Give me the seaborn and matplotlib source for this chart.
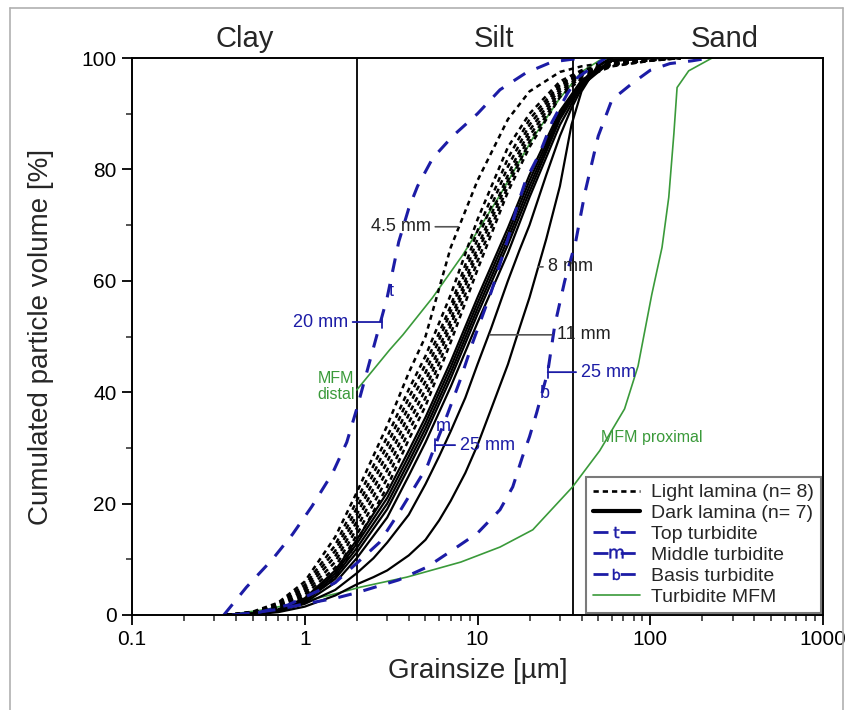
import numpy as np
import pandas as pd
import matplotlib
matplotlib.use("Agg")
import matplotlib.pyplot as plt
import seaborn as sns
from matplotlib.lines import Line2D

# ---------------- data ----------------
GRID = [0.35, 0.5, 0.7, 1, 1.5, 2, 3, 4, 5, 7, 10, 15, 20, 30, 40, 60, 100, 150]

LIGHT_1 = [0, 0.6, 2.2, 6.0, 14.0, 22.0, 34.0, 43.5, 50.0, 66.0, 78.0, 89.0, 94.0, 97.5, 98.5, 99.3, 99.8, 100]
LIGHT_2 = [0, 0.5, 2.0, 5.4, 12.5, 20.5, 32.0, 40.5, 46.5, 57.5, 71.0, 84.0, 90.0, 95.8, 97.8, 99.1, 99.7, 100]
LIGHT_3 = [0, 0.5, 1.8, 4.9, 11.5, 19.2, 30.5, 39.0, 45.0, 55.5, 69.0, 82.0, 89.0, 95.3, 97.5, 99.0, 99.7, 100]
LIGHT_4 = [0, 0.4, 1.6, 4.5, 10.5, 18.0, 29.0, 37.5, 43.5, 54.5, 67.5, 80.5, 88.0, 95.0, 97.3, 98.9, 99.6, 100]
LIGHT_5 = [0, 0.4, 1.5, 4.0, 9.5, 16.8, 27.5, 36.0, 42.0, 53.0, 66.0, 79.0, 87.0, 94.5, 97.1, 98.8, 99.6, 100]
LIGHT_6 = [0, 0.3, 1.3, 3.6, 8.5, 15.6, 26.0, 34.5, 40.5, 52.0, 65.0, 78.0, 86.0, 94.0, 96.9, 98.7, 99.6, 100]
LIGHT_7 = [0, 0.3, 1.2, 3.2, 7.5, 14.4, 24.5, 33.0, 39.0, 50.5, 63.5, 77.0, 85.0, 93.5, 96.6, 98.6, 99.5, 100]
LIGHT_8 = [0, 0.3, 1.0, 2.8, 6.5, 13.2, 23.0, 31.5, 37.5, 49.0, 62.0, 76.0, 84.0, 93.0, 96.3, 98.5, 99.5, 100]

DARK_1 = [0, 0.3, 1.0, 3.0, 8.0, 13.5, 22.0, 29.5, 35.5, 45.5, 57.0, 69.5, 79.0, 90.5, 96.0, 99.6, 100, 100]
DARK_2 = [0, 0.3, 0.9, 2.8, 7.5, 12.8, 21.0, 28.5, 34.5, 44.5, 56.0, 68.5, 78.0, 90.0, 95.8, 99.6, 100, 100]
DARK_3 = [0, 0.2, 0.9, 2.6, 7.0, 12.0, 20.0, 27.5, 33.5, 43.5, 55.0, 67.5, 77.0, 89.5, 95.5, 99.5, 100, 100]
DARK_4 = [0, 0.2, 0.8, 2.5, 6.5, 11.2, 19.0, 26.5, 32.5, 42.5, 54.0, 66.5, 76.0, 89.0, 95.3, 99.5, 100, 100]
DARK_5 = [0, 0.2, 0.8, 2.2, 5.8, 10.2, 17.5, 25.0, 31.0, 41.0, 52.5, 65.0, 75.0, 88.0, 95.0, 99.5, 100, 100]

GRID_B = [0.35, 0.5, 0.7, 1, 1.5, 2, 2.5, 3, 4, 5, 6, 7, 8.5, 10, 12, 15, 17.5, 20, 25, 30, 35, 40, 50, 60]
DARK_6 = [0, 0.2, 0.7, 2.0, 4.5, 7.5, 10.2, 13.0, 18.0, 23.5, 28.5, 33.0, 39.0, 45.0, 51.5, 60.0, 65.5, 70.0, 79.0, 86.0, 91.0, 94.5, 98.5, 100]
DARK_7 = [0, 0.1, 0.5, 1.5, 3.5, 5.5, 6.8, 8.0, 10.7, 13.5, 17.0, 20.5, 25.5, 30.5, 37.0, 45.0, 51.5, 57.0, 67.5, 77.0, 88.0, 94.0, 98.8, 100]

TOP_X = [0.34, 0.46, 0.65, 0.85, 1.1, 1.45, 1.75, 2.0, 2.5, 3.0, 3.5, 4.0, 4.5, 5.5, 7.2, 10, 13.5, 19, 27, 40]
TOP_Y = [0, 5, 10, 14.5, 19.5, 25.5, 31, 37, 48, 57, 67, 73, 77, 82, 86, 90, 94.3, 97.3, 99.3, 100]

MID_X = [0.38, 0.55, 0.8, 1.0, 1.5, 2.0, 2.7, 3.5, 5.1, 5.7, 6.6, 7.9, 9.4, 12, 15, 17, 19, 23, 27, 33, 38, 55]
MID_Y = [0, 0.5, 1.8, 3.2, 5.8, 9.3, 13, 18.3, 26.6, 30.5, 35.5, 42, 49, 58, 67.5, 73.5, 78, 83, 88.5, 93.5, 96.5, 100]

BAS_X = [0.4, 0.7, 1.0, 1.5, 2.0, 3.5, 5.1, 7.2, 10, 13.5, 16, 18.2, 20, 22, 25.5, 28, 32, 37, 42, 50, 60, 79, 100, 130, 175, 220]
BAS_Y = [0, 1, 2, 3, 4, 6.3, 8.6, 11.7, 14.7, 18.9, 23, 28.4, 32, 36.3, 43.6, 52, 60, 67, 76, 86, 92.5, 95.5, 97.8, 99, 99.5, 100]

DIST_X = [2.0, 3.1, 3.7, 5.5, 8.2, 13.5, 20.9, 30, 40, 51, 60]
DIST_Y = [40.4, 47.6, 50.3, 57, 64.6, 75.4, 85.6, 92.8, 97.5, 99.6, 100]

PROX_X = [0.35, 0.6, 1.0, 1.5, 2.1, 3.9, 8, 13.5, 20.9, 35.5, 51, 71, 85, 102, 117, 128, 137, 143, 167, 228]
PROX_Y = [0, 1, 2.5, 3.8, 5, 6.8, 9.5, 12.2, 15.3, 23, 29.5, 37, 44.7, 57.5, 66, 75, 86.4, 94.7, 97.7, 100]

BOUNDARIES = [2, 35.5]
CLASS_NAMES = ["Clay", "Silt", "Sand"]
CLASS_X = [0.45, 12.4, 269]

X_TICKS = [0.1, 1, 10, 100, 1000]
X_TICK_LABELS = ["0.1", "1", "10", "100", "1000"]
Y_TICKS = [0, 20, 40, 60, 80, 100]

LEGEND_LABELS = ["Light lamina (n= 8)", "Dark lamina (n= 7)", "Top turbidite",
                 "Middle turbidite", "Basis turbidite", "Turbidite MFM"]

# ---------------- style ----------------
sns.set_theme(style="ticks")
plt.rcParams["font.family"] = ["Liberation Sans", "DejaVu Sans"]

BLUE = "#1c1ca6"
GREEN = "#3a9a3a"
BLACK = "#000000"
DOTTED = (0, (2.0, 1.7))
DASHED = (0, (4.5, 4.0))

fig = plt.figure(figsize=(8.53, 7.10), dpi=100)
ax = fig.add_axes([132 / 853, 1 - 615 / 710, (823 - 132) / 853, (615 - 58) / 710])
ax.set_xscale("log")


def draw(x, y, **kw):
    df = pd.DataFrame({"size": x, "vol": y})
    sns.lineplot(data=df, x="size", y="vol", ax=ax, sort=False, estimator=None,
                 legend=False, **kw)


# green MFM
draw(DIST_X, DIST_Y, color=GREEN, lw=1.2)
draw(PROX_X, PROX_Y, color=GREEN, lw=1.2)

# dark laminae
for ys in [DARK_1, DARK_2, DARK_3, DARK_4, DARK_5]:
    draw(GRID, ys, color=BLACK, lw=1.6)
for ys in [DARK_6, DARK_7]:
    draw(GRID_B, ys, color=BLACK, lw=1.6)

# light laminae
for ys in [LIGHT_1, LIGHT_2, LIGHT_3, LIGHT_4, LIGHT_5, LIGHT_6, LIGHT_7, LIGHT_8]:
    draw(GRID, ys, color=BLACK, lw=1.8, linestyle=DOTTED)

# turbidites
for xs, ys in [(TOP_X, TOP_Y), (MID_X, MID_Y), (BAS_X, BAS_Y)]:
    draw(xs, ys, color=BLUE, lw=2.2, linestyle=DASHED)

for b in BOUNDARIES:
    ax.axvline(b, color="#111111", lw=1.4, zorder=1)

ax.set_xlim(0.1, 1000)
ax.set_ylim(0, 100)
ax.set_xticks(X_TICKS)
ax.set_xticklabels(X_TICK_LABELS)
ax.set_yticks(Y_TICKS)
ax.yaxis.set_minor_locator(matplotlib.ticker.MultipleLocator(10))
ax.xaxis.set_minor_locator(matplotlib.ticker.LogLocator(base=10, subs=np.arange(2, 10)))
ax.xaxis.set_minor_formatter(matplotlib.ticker.NullFormatter())
ax.tick_params(which="major", direction="out", length=7, width=1.3, labelsize=15,
               colors="black", pad=4)
ax.tick_params(which="minor", direction="out", length=4, width=1.1)
for s in ax.spines.values():
    s.set_linewidth(1.4)
    s.set_color("black")

ax.set_xlabel("Grainsize [µm]", fontsize=20, labelpad=6)
ax.set_ylabel("Cumulated particle volume [%]", fontsize=20, labelpad=20)

for name, cx in zip(CLASS_NAMES, CLASS_X):
    ax.text(cx, 103.4, name, ha="center", va="center", fontsize=21, clip_on=False)

# annotations
grey = "#555555"
ax.annotate("4.5 mm", xy=(7.7, 69.7), xytext=(5.35, 69.7), ha="right", va="center",
            fontsize=13, color="#222222",
            arrowprops=dict(arrowstyle="-", color=grey, lw=1.2, shrinkA=1, shrinkB=0))
ax.annotate("8 mm", xy=(22.4, 62.5), xytext=(25.5, 62.5), ha="left", va="center",
            fontsize=13, color="#222222",
            arrowprops=dict(arrowstyle="-", color=grey, lw=1.2, shrinkA=1, shrinkB=0))
ax.annotate("11 mm", xy=(11.8, 50.3), xytext=(28.7, 50.3), ha="left", va="center",
            fontsize=13, color="#222222",
            arrowprops=dict(arrowstyle="-", color=grey, lw=1.2, shrinkA=1, shrinkB=0))
tick_arrow = dict(arrowstyle="-[, widthB=0.35, lengthB=0", color=BLUE, lw=1.3,
                  shrinkA=1, shrinkB=0)
ax.annotate("20 mm", xy=(2.8, 52.6), xytext=(1.78, 52.6), ha="right", va="center",
            fontsize=13, color=BLUE, arrowprops=tick_arrow)
ax.annotate("25 mm", xy=(5.66, 30.5), xytext=(7.9, 30.5), ha="left", va="center",
            fontsize=13, color=BLUE, arrowprops=tick_arrow)
ax.annotate("25 mm", xy=(25.5, 43.6), xytext=(39.6, 43.6), ha="left", va="center",
            fontsize=13, color=BLUE, arrowprops=tick_arrow)
ax.text(3.15, 58, "t", color=BLUE, fontsize=13, ha="center", va="center")
ax.text(6.3, 33.8, "m", color=BLUE, fontsize=13, ha="center", va="center")
ax.text(24.5, 39.8, "b", color=BLUE, fontsize=13, ha="center", va="center")
ax.text(1.95, 41, "MFM\ndistal", color=GREEN, fontsize=11.5, ha="right", va="center",
        multialignment="center", linespacing=1.1)
ax.text(51.8, 31.8, "MFM proximal", color=GREEN, fontsize=11.5, ha="left", va="center")

# legend
hdash = (0, (5.4, 4.4))
handles = [
    Line2D([], [], color=BLACK, lw=1.9, linestyle=(0, (2.0, 1.5))),
    Line2D([], [], color=BLACK, lw=3.0),
    Line2D([], [], color=BLUE, lw=2.0, linestyle=hdash, marker=r"$\mathsf{t}$",
           markersize=8, markeredgewidth=0.3),
    Line2D([], [], color=BLUE, lw=2.0, linestyle=hdash, marker=r"$\mathsf{m}$",
           markersize=10, markeredgewidth=0.3),
    Line2D([], [], color=BLUE, lw=2.0, linestyle=hdash, marker=r"$\mathsf{b}$",
           markersize=8, markeredgewidth=0.3),
    Line2D([], [], color=GREEN, lw=1.2),
]
leg = ax.legend(handles, LEGEND_LABELS, loc="lower right", bbox_to_anchor=(0.997, 0.004),
                fontsize=14, frameon=True, fancybox=False, framealpha=1,
                edgecolor="#7a7a7a", handlelength=2.4, handletextpad=0.6,
                labelspacing=0.17, borderpad=0.35, borderaxespad=0.0)
leg.get_frame().set_linewidth(1.5)

# outer light frame of the figure
fig.add_artist(Line2D([10 / 853, 10 / 853], [0, 1 - 8 / 710], color="#b0b0b0", lw=1.2))
fig.add_artist(Line2D([10 / 853, 843 / 853], [1 - 8 / 710, 1 - 8 / 710], color="#b0b0b0", lw=1.2))
fig.add_artist(Line2D([843 / 853, 843 / 853], [0, 1 - 8 / 710], color="#b0b0b0", lw=1.2))

fig.savefig("out.png", dpi=100)
